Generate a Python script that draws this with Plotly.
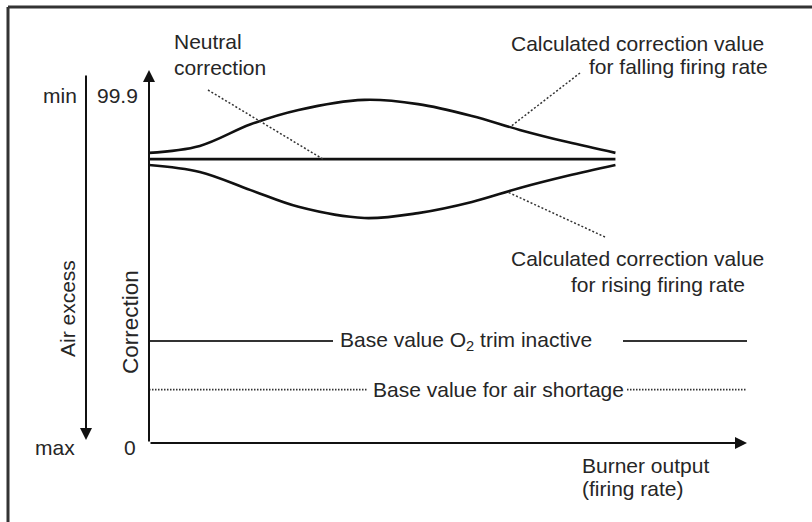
import numpy as np
import plotly.graph_objects as go

# ---- data -------------------------------------------------------------
burner_output = [0, 8.5, 17, 25, 36, 45, 54, 62, 70, 78]        # % firing rate
corr_falling = [83.3, 85.3, 91.5, 95.6, 98.5, 97.3, 93.9, 89.9, 86.4, 83.3]
corr_rising = [79.8, 77.8, 72.6, 67.8, 64.6, 66.0, 69.2, 73.2, 76.7, 79.8]
neutral_correction = 81.5
base_o2_inactive = 29.3
base_air_shortage = 15.3
output_max = 100
correction_ticks = [0, 99.9]
correction_tick_text = ["0", "99.9"]
air_excess_text = ["max", "min"]

# ---- canvas geometry (pixel layout of the drawing) ---------------------
W, H = 812, 522
X_ORIGIN_PX, X_END_PX = 149, 747
Y_ORIGIN_PX, PX_PER_Y = 443, 3.483
PX_PER_X = (X_END_PX - X_ORIGIN_PX) / output_max


def gx(px):
    return (px - X_ORIGIN_PX) / PX_PER_X


def gy(py):
    return (Y_ORIGIN_PX - py) / PX_PER_Y


def tick_py(v):
    return Y_ORIGIN_PX - v * PX_PER_Y


INK = "#111111"
GREY = "#333333"
TXT = "#262626"
FONT = "Liberation Sans, Arial, sans-serif"
FS = 21

fig = go.Figure()

# correction curves
for ys in (corr_falling, corr_rising):
    fig.add_trace(go.Scatter(x=burner_output, y=ys, mode="lines",
                             line=dict(color=INK, width=2.6, shape="spline", smoothing=1.0),
                             hoverinfo="skip"))
# neutral correction
fig.add_trace(go.Scatter(x=[0, burner_output[-1]], y=[neutral_correction] * 2, mode="lines",
                         line=dict(color=INK, width=2.6), hoverinfo="skip"))

# base value O2 trim inactive (broken around its label)
gap1 = (gx(333), gx(623))
fig.add_trace(go.Scatter(x=[0, gap1[0], None, gap1[1], output_max],
                         y=[base_o2_inactive, base_o2_inactive, None, base_o2_inactive, base_o2_inactive],
                         mode="lines", line=dict(color=GREY, width=2), hoverinfo="skip"))
# base value for air shortage
gap2 = (gx(367), gx(627))
fig.add_trace(go.Scatter(x=[0, gap2[0], None, gap2[1], output_max],
                         y=[base_air_shortage, base_air_shortage, None, base_air_shortage, base_air_shortage],
                         mode="lines", line=dict(color=GREY, width=1.7, dash="1.5px,1.5px"),
                         hoverinfo="skip"))

# dotted leader lines from labels to curves
xn = gx(323)
xf = gx(510)
xr = gx(507)
leaders = [
    ((gx(208), gy(90)), (xn, neutral_correction)),
    ((gx(580), gy(73)), (xf, float(np.interp(xf, burner_output, corr_falling)))),
    ((gx(605), gy(237)), (xr, float(np.interp(xr, burner_output, corr_rising)))),
]
for (x0, y0), (x1, y1) in leaders:
    fig.add_trace(go.Scatter(x=[x0, x1], y=[y0, y1], mode="lines",
                             line=dict(color=GREY, width=1.5, dash="2px,2px"), hoverinfo="skip"))

annotations = []


def arrow(xh, yh, xt, yt):
    annotations.append(dict(x=xh, y=yh, ax=xt, ay=yt, xref="x", yref="y", axref="x", ayref="y",
                            text="", showarrow=True, arrowhead=2, arrowsize=1.2,
                            arrowwidth=2, arrowcolor=INK, standoff=0, startstandoff=0))


# axes
arrow(output_max, 0, 0, 0)
arrow(0, gy(70), 0, 0)
# air excess direction
arrow(gx(86), gy(440), gx(86), gy(74))


def label(text, px, py, xanchor="center", angle=0, size=FS):
    annotations.append(dict(x=gx(px), y=gy(py), xref="x", yref="y", text=text, showarrow=False,
                            xanchor=xanchor, yanchor="middle", textangle=angle,
                            font=dict(family=FONT, size=size, color=TXT)))


# tick labels
label(correction_tick_text[1], 117, tick_py(correction_ticks[1]))
label(correction_tick_text[0], 130, tick_py(correction_ticks[0]) + 4)
label(air_excess_text[1], 60, tick_py(correction_ticks[1]))
label(air_excess_text[0], 55, tick_py(correction_ticks[0]) + 4)

label("Air excess", 67, 309, angle=-90)
label("Correction", 130, 322, angle=-90, size=22.5)

label("Neutral", 172, 41, xanchor="left")
label("correction", 172, 67, xanchor="left")
label("Calculated correction value", 766, 43, xanchor="right")
label("for falling firing rate", 770, 66, xanchor="right")
label("Calculated correction value", 766, 258, xanchor="right")
label("for rising firing rate", 747, 284, xanchor="right")
label("Base value O<sub>2</sub> trim inactive", 466, 341)
label("Base value for air shortage", 498, 389)
label("Burner output", 580, 465, xanchor="left")
label("(firing rate)", 580, 488, xanchor="left")

# outer frame (top and left edges)
shapes = [
    dict(type="line", xref="paper", yref="paper", x0=8 / W, x1=1, y0=1 - 7 / H, y1=1 - 7 / H,
         line=dict(color=GREY, width=3)),
    dict(type="line", xref="paper", yref="paper", x0=8 / W, x1=8 / W, y0=0, y1=1 - 7 / H,
         line=dict(color=GREY, width=3)),
]

fig.update_layout(
    width=W, height=H, margin=dict(l=0, r=0, t=0, b=0, pad=0),
    paper_bgcolor="white", plot_bgcolor="white", showlegend=False,
    xaxis=dict(range=[gx(0), gx(W)], visible=False, fixedrange=True),
    yaxis=dict(range=[gy(H), gy(0)], visible=False, fixedrange=True),
    annotations=annotations, shapes=shapes, hovermode=False,
)

fig.write_html("out.html", config={"displayModeBar": False})
